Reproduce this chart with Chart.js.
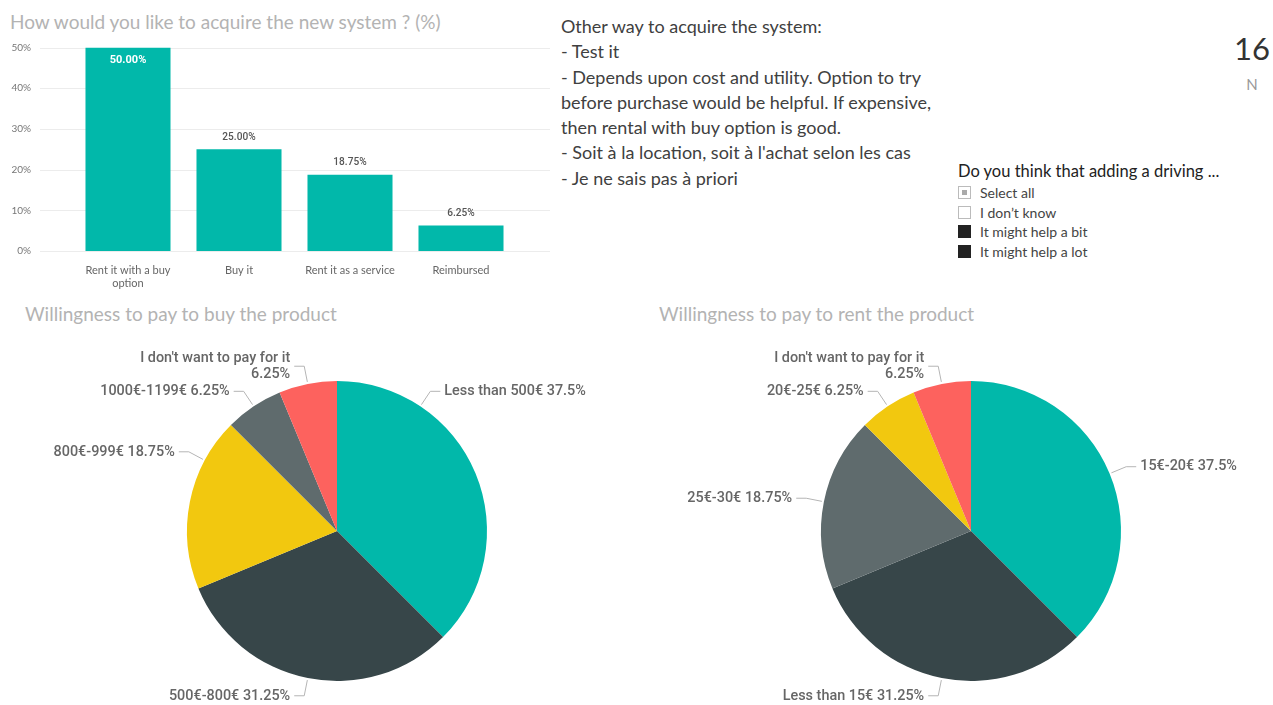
<!DOCTYPE html>
<html>
<head>
<meta charset="utf-8">
<script src="https://cdn.jsdelivr.net/npm/chart.js@4/dist/chart.umd.min.js"></script>
<style>
  body { margin: 0; width: 1273px; height: 705px; overflow: hidden; background: #fff; font-family: Lato, "Open Sans", sans-serif; position: relative; }
  .abs { position: absolute; white-space: nowrap; }
  .title { color: #b3b3b3; font-size: 19px; line-height: 22px; }
  #notes { left: 561px; top: 14px; font-size: 18px; line-height: 25.3px; color: #404040; }
  #card { right: 3px; top: 28px; text-align: center; color: #333; }
  #card .num { font-size: 31px; line-height: 40px; }
  #card .lbl { font-size: 15px; line-height: 20px; color: #999; margin-top: 6px; }
  #slicer { left: 958px; top: 160px; color: #444; }
  #slicer .head { font-size: 16.5px; line-height: 22px; color: #222; margin-bottom: 1px; }
  #slicer .item { font-size: 14px; line-height: 19.5px; display: flex; align-items: center; }
  #slicer .box { width: 11px; height: 11px; border: 1px solid #bbb; margin-right: 9px; box-sizing: content-box; position: relative; }
  #slicer .box.part::after { content: ""; position: absolute; left: 3px; top: 3px; width: 5px; height: 5px; background: #aaa; }
  #slicer .box.on { background: #222; border-color: #222; }
  canvas { position: absolute; }
</style>
</head>
<body>
<div class="abs title" style="left:10px; top:11px;">How would you like to acquire the new system ? (%)</div>
<div class="abs title" style="left:25px; top:303px;">Willingness to pay to buy the product</div>
<div class="abs title" style="left:659px; top:303px;">Willingness to pay to rent the product</div>

<div class="abs" id="notes">
  Other way to acquire the system:<br>
  - Test it<br>
  - Depends upon cost and utility. Option to try<br>
  before purchase would be helpful. If expensive,<br>
  then rental with buy option is good.<br>
  - Soit à la location, soit à l'achat selon les cas<br>
  - Je ne sais pas à priori
</div>

<div class="abs" id="card">
  <div class="num">16</div>
  <div class="lbl">N</div>
</div>

<div class="abs" id="slicer">
  <div class="head">Do you think that adding a driving ...</div>
  <div class="item"><span class="box part"></span>Select all</div>
  <div class="item"><span class="box"></span>I don’t know</div>
  <div class="item"><span class="box on"></span>It might help a bit</div>
  <div class="item"><span class="box on"></span>It might help a lot</div>
</div>

<canvas id="acquireChart" style="left:0; top:0;" width="560" height="300"></canvas>
<canvas id="buyPie" style="left:0; top:330px;" width="634" height="375"></canvas>
<canvas id="rentPie" style="left:634px; top:330px;" width="639" height="375"></canvas>

<script>
// Acquisition preferences (%)
const acquireLabels = [["Rent it with a buy", "option"], "Buy it", "Rent it as a service", "Reimbursed"];
const acquireValues = [50, 25, 18.75, 6.25];
const acquireTicks = [0, 10, 20, 30, 40, 50];

// Willingness to pay to buy
const buyLabels = ["Less than 500€", "500€-800€", "800€-999€", "1000€-1199€", "I don't want to pay for it"];
const buyValues = [37.5, 31.25, 18.75, 6.25, 6.25];

// Willingness to pay to rent
const rentLabels = ["15€-20€", "Less than 15€", "25€-30€", "20€-25€", "I don't want to pay for it"];
const rentValues = [37.5, 31.25, 18.75, 6.25, 6.25];

const teal = '#01B8AA', dark = '#374649', yellow = '#F2C80F', grey = '#5F6B6D', red = '#FD625E';
const labelFont = '500 15px Roboto';

Chart.defaults.font.family = 'Lato';
Chart.defaults.animation = false;

// gridlines run wider than the bar area
const wideGrid = {
  id: 'wideGrid',
  beforeDatasetsDraw(chart) {
    const y = chart.scales.y, ctx = chart.ctx;
    ctx.save();
    ctx.strokeStyle = '#ececec';
    ctx.lineWidth = 1;
    y.ticks.forEach(t => {
      const py = Math.round(y.getPixelForValue(t.value)) + 0.5;
      ctx.beginPath();
      ctx.moveTo(40, py);
      ctx.lineTo(550, py);
      ctx.stroke();
    });
    ctx.restore();
  }
};

// value labels on the bars
const barValues = {
  id: 'barValues',
  afterDatasetsDraw(chart) {
    const ctx = chart.ctx;
    const meta = chart.getDatasetMeta(0);
    ctx.save();
    ctx.textAlign = 'center';
    ctx.textBaseline = 'middle';
    meta.data.forEach((bar, i) => {
      const txt = acquireValues[i].toFixed(2) + '%';
      if (bar.y - 16 < chart.chartArea.top) {
        ctx.fillStyle = '#fff';
        ctx.font = 'bold 11px Roboto';
        ctx.fillText(txt, bar.x, bar.y + 13);
      } else {
        ctx.fillStyle = '#555';
        ctx.font = '500 11px Roboto';
        ctx.save();
        ctx.translate(bar.x, bar.y - 12);
        ctx.scale(0.92, 1);
        ctx.fillText(txt, 0, 0);
        ctx.restore();
      }
    });
    ctx.restore();
  }
};

new Chart(document.getElementById('acquireChart'), {
  type: 'bar',
  data: {
    labels: acquireLabels,
    datasets: [{
      data: acquireValues,
      backgroundColor: teal,
      categoryPercentage: 1,
      barPercentage: 0.766
    }]
  },
  options: {
    responsive: false,
    layout: { padding: { top: 47, right: 43.5, bottom: 0, left: 0 } },
    plugins: { legend: { display: false }, tooltip: { enabled: false } },
    scales: {
      y: {
        min: 0,
        max: 50,
        afterBuildTicks: s => { s.ticks = acquireTicks.map(v => ({ value: v })); },
        afterFit: s => { s.width = 72.5; },
        grid: { display: false, drawTicks: false },
        border: { display: false },
        ticks: { color: '#777', font: { size: 10 }, padding: 41.5, callback: v => v + '%' }
      },
      x: {
        afterFit: s => { s.height = 49; },
        grid: { display: false, drawTicks: false },
        border: { display: false },
        ticks: { color: '#666', font: { size: 11 }, padding: 13, maxRotation: 0 }
      }
    }
  },
  plugins: [wideGrid, barValues]
});

// outside labels with bent leader lines
function pieLabels(labels, values, anchors) {
  return {
    id: 'pieLabels',
    afterDraw(chart) {
      const ctx = chart.ctx;
      const arcs = chart.getDatasetMeta(0).data;
      ctx.save();
      ctx.font = labelFont;
      ctx.textBaseline = 'middle';
      arcs.forEach((arc, i) => {
        const a = arc.startAngle + anchors[i] * (arc.endAngle - arc.startAngle);
        const r = arc.outerRadius;
        const cos = Math.cos(a), sin = Math.sin(a);
        const right = cos >= 0;
        const x0 = arc.x + (r + 2) * cos, y0 = arc.y + (r + 2) * sin;
        const x1 = arc.x + (r + 18) * cos, y1 = arc.y + (r + 18) * sin;
        const x2 = x1 + (right ? 10 : -10);
        ctx.strokeStyle = '#b5b5b5';
        ctx.lineWidth = 1;
        ctx.beginPath();
        ctx.moveTo(x0, y0);
        ctx.lineTo(x1, y1);
        ctx.lineTo(x2, y1);
        ctx.stroke();

        const pct = values[i] + '%';
        const lines = labels[i].length > 20 ? [labels[i], pct] : [labels[i] + ' ' + pct];
        const tx = x2 + (right ? 4 : -4);
        ctx.fillStyle = '#666';
        ctx.textAlign = right ? 'left' : 'right';
        lines.forEach((ln, k) => {
          const ty = y1 + (k - (lines.length - 1) / 2) * 16;
          ctx.save();
          ctx.translate(tx, ty);
          ctx.scale(0.96, 1);
          ctx.fillText(ln, 0, 0);
          ctx.restore();
        });
      });
      ctx.restore();
    }
  };
}

function pie(id, labels, values, colors, anchors, padRight) {
  new Chart(document.getElementById(id), {
    type: 'pie',
    data: {
      labels: labels,
      datasets: [{ data: values, backgroundColor: colors, borderWidth: 0 }]
    },
    options: {
      responsive: false,
      layout: { padding: { left: 187, right: padRight, top: 51, bottom: 24 } },
      plugins: { legend: { display: false }, tooltip: { enabled: false } }
    },
    plugins: [pieLabels(labels, values, anchors)]
  });
}

pie('buyPie', buyLabels, buyValues, [teal, dark, yellow, grey, red], [0.25, 0.5, 0.75, 0.5, 0.5], 147);
pie('rentPie', rentLabels, rentValues, [teal, dark, grey, yellow, red], [0.5, 0.5, 0.5, 0.5, 0.5], 152);
</script>
</body>
</html>
